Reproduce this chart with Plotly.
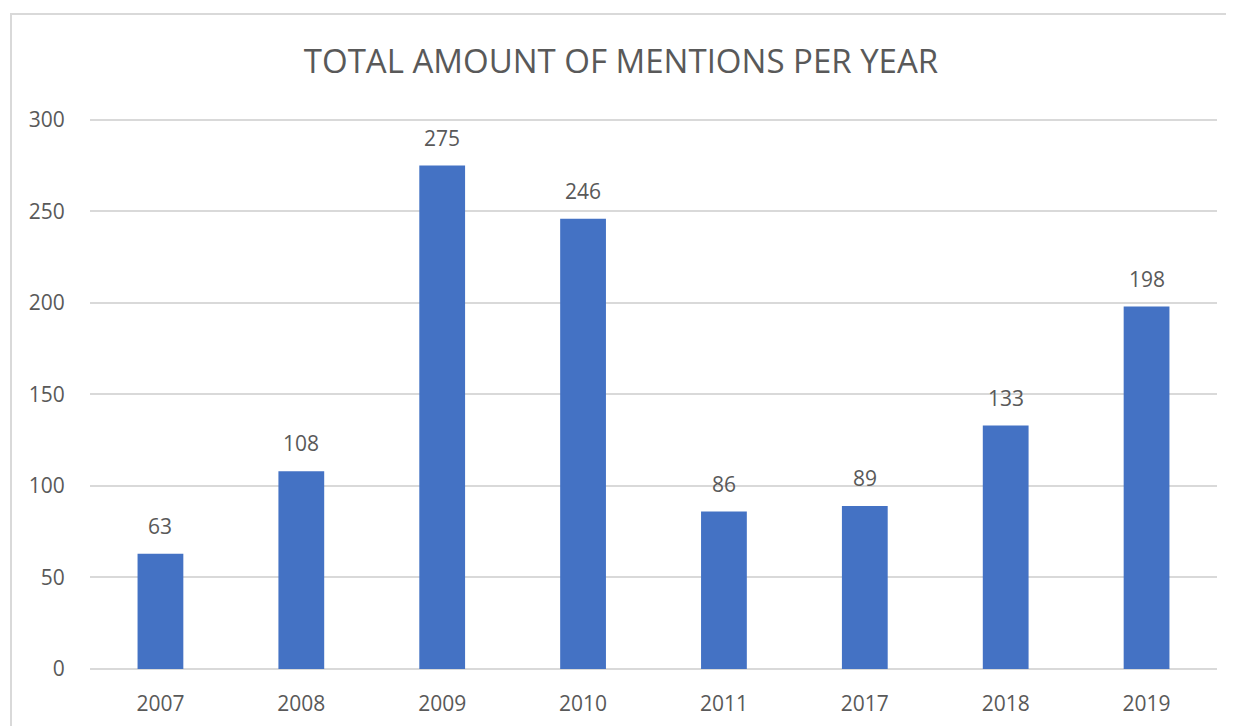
import plotly.graph_objects as go

years = ["2007", "2008", "2009", "2010", "2011", "2017", "2018", "2019"]
mentions = [63, 108, 275, 246, 86, 89, 133, 198]
y_ticks = [0, 50, 100, 150, 200, 250, 300]

TEXT = "#595959"
FONT = "Open Sans"

fig = go.Figure()
fig.add_trace(go.Bar(x=years, y=mentions, marker=dict(color="#4472C4", line=dict(width=0)),
                     hoverinfo="x+y"))

for i, v in enumerate(mentions):
    fig.add_annotation(x=i, y=v, text=str(v), showarrow=False, yanchor="bottom",
                       yshift=12, font=dict(family=FONT, size=21, color=TEXT))

# page body has an 8px offset; figure is sized/placed to compensate
OFF = 8
W, H = 1234 - OFF, 726 - OFF
YMAX = 301
PXU = 549 / 300.0
L = 90 - OFF
R = (1234 - 1217)
B = 726 - 669
T = H - B - int(round(YMAX * PXU))
pw, ph = W - L - R, H - T - B

fig.add_shape(type="rect", xref="paper", yref="paper",
              x0=(11 - OFF - L) / pw, x1=(W + 20 - L) / pw,
              y0=-(B + 20) / ph, y1=(H - B - (14 - OFF)) / ph,
              line=dict(color="#d9d9d9", width=2), fillcolor="rgba(0,0,0,0)", layer="below")

fig.update_layout(
    width=W, height=H,
    margin=dict(l=L, r=R, t=T, b=B, autoexpand=False),
    paper_bgcolor="white", plot_bgcolor="white",
    bargap=0.675,
    showlegend=False,
    title=dict(text="TOTAL AMOUNT OF MENTIONS PER YEAR", x=0.5, xanchor="center",
               y=1 - (61 - OFF) / H, yanchor="middle",
               font=dict(family=FONT, size=33, color=TEXT)),
    font=dict(family=FONT, color=TEXT),
    xaxis=dict(type="category", range=[-0.5, len(years) - 0.5], showgrid=False,
               showline=False, zeroline=False,
               ticks="outside", ticklen=16, tickcolor="rgba(0,0,0,0)",
               tickfont=dict(family=FONT, size=21, color=TEXT), fixedrange=True),
    yaxis=dict(range=[0, YMAX], tickvals=y_ticks, showgrid=True, gridcolor="#d9d9d9",
               gridwidth=1.5, zeroline=True, zerolinecolor="#d9d9d9", zerolinewidth=1.5,
               showline=False, ticks="outside", ticklen=20, tickcolor="rgba(0,0,0,0)",
               tickfont=dict(family=FONT, size=21, color=TEXT), fixedrange=True),
)

fig.write_html("out.html")
